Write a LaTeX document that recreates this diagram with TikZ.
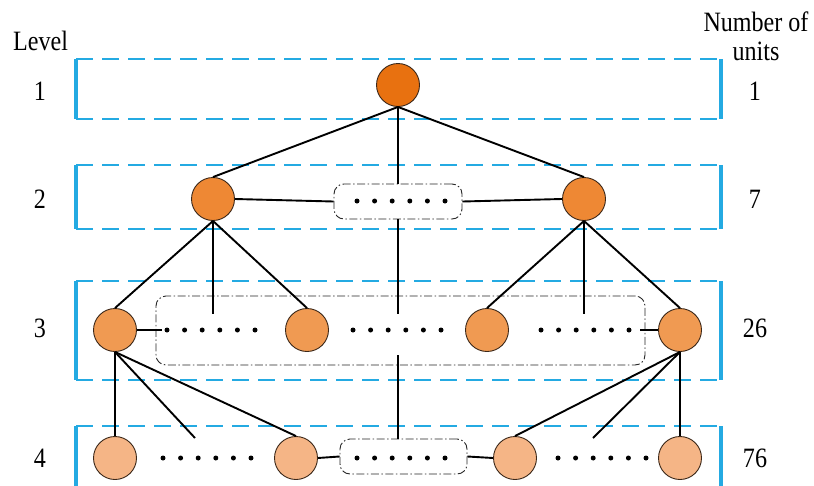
\documentclass[tikz,border=0pt]{standalone}
\usepackage{fontspec}
\newfontfamily\labfont[FakeStretch=0.86]{Liberation Serif}
\definecolor{bandblue}{RGB}{36,170,226}
\definecolor{cA}{RGB}{232,113,16}
\definecolor{cB}{RGB}{238,136,52}
\definecolor{cC}{RGB}{240,154,82}
\definecolor{cD}{RGB}{245,181,134}
\definecolor{rim}{RGB}{60,40,25}
\begin{document}
\begin{tikzpicture}[x=1pt,y=-1pt,
  unit/.style={circle,draw=rim,line width=0.9pt,minimum size=43pt,inner sep=0pt},
  conn/.style={line width=1.9pt,black},
  band/.style={draw=bandblue,line width=1.8pt,dash pattern=on 17pt off 9pt},
  bandside/.style={draw=bandblue,line width=3.2pt},
  grp/.style={draw=black!85,line width=0.9pt,dash pattern=on 8pt off 2.5pt on 1.5pt off 2.5pt,rounded corners=10pt,inner sep=0pt},
  lab/.style={font=\labfont\fontsize{28}{30}\selectfont,anchor=base,inner sep=0pt},
  sixdots/.pic={\foreach \i in {0,...,5} \fill (\i*17.6,0) circle (2.5pt);}]
\useasboundingbox (0,0) rectangle (814,485);
% level bands
\foreach \t/\b in {59/119,165/229,281/380,426/492}{
  \draw[band] (76,\t) -- (721,\t);
  \draw[band] (76,\b) -- (721,\b);
  \draw[bandside] (76,\t) -- (76,\b);
  \draw[bandside] (721,\t) -- (721,\b);
}
% units
\node[unit,fill=cA] (root) at (398,85) {};
\node[unit,fill=cB] (l2a) at (213,199) {};
\node[unit,fill=cB] (l2b) at (584,199) {};
\node[grp,minimum width=128pt,minimum height=35pt] (g2) at (398,201.5) {};
\node[unit,fill=cC] (l3a) at (115,330) {};
\node[unit,fill=cC] (l3b) at (307,330) {};
\node[unit,fill=cC] (l3c) at (487,330) {};
\node[unit,fill=cC] (l3d) at (680,330) {};
\node[grp,minimum width=489pt,minimum height=69pt] (g3) at (400.5,330.5) {};
\node[unit,fill=cD] (l4a) at (115,458) {};
\node[unit,fill=cD] (l4b) at (296,458) {};
\node[unit,fill=cD] (l4c) at (515,458) {};
\node[unit,fill=cD] (l4d) at (680,458) {};
\node[grp,minimum width=127pt,minimum height=35pt] (g4) at (403.5,456.5) {};
% dots
\pic at (357,201) {sixdots};
\pic at (167,330) {sixdots};
\pic at (353,330) {sixdots};
\pic at (541,330) {sixdots};
\pic at (163,458) {sixdots};
\pic at (357,458) {sixdots};
\pic at (558,458) {sixdots};
% free ends
\coordinate (e2a) at (213,314);
\coordinate (e2b) at (584,314);
\coordinate (e2m) at (398,314);
\coordinate (e3l) at (162,330);
\coordinate (e3r) at (640,330);
\coordinate (e3m) at (398,355);
\coordinate (e4l) at (195,438);
\coordinate (e4r) at (593,438);
% connectors
\draw[conn] (root.south) -- (l2a.north);
\draw[conn] (root.south) -- (l2b.north);
\draw[conn] (root.south) -- (g2.north);
\draw[conn] (l2a.east) -- (g2.west);
\draw[conn] (g2.east) -- (l2b.west);
\draw[conn] (l2a.south) -- (l3a.north);
\draw[conn] (l2a.south) -- (e2a);
\draw[conn] (l2a.south) -- (l3b.north);
\draw[conn] (l2b.south) -- (l3c.north);
\draw[conn] (l2b.south) -- (e2b);
\draw[conn] (l2b.south) -- (l3d.north);
\draw[conn] (g2.south) -- (e2m);
\draw[conn] (l3a.east) -- (e3l);
\draw[conn] (e3r) -- (l3d.west);
\draw[conn] (e3m) -- (e3m |- g4.north);
\draw[conn] (l3a.south) -- (l4a.north);
\draw[conn] (l3a.south) -- (e4l);
\draw[conn] (l3a.south) -- (l4b.north);
\draw[conn] (l3d.south) -- (l4d.north);
\draw[conn] (l3d.south) -- (e4r);
\draw[conn] (l3d.south) -- (l4c.north);
\draw[conn] (l4b.east) -- (g4.west);
\draw[conn] (g4.east) -- (l4c.west);
% labels
\node[lab,anchor=base west] (tl) at (13,50) {Level};
\node[lab] (tn) at (756,31) {Number of};
\node[lab] (tu) at (756,60) {units};
\node[lab] (n1) at (40,100) {1};
\node[lab] (n2) at (40,208) {2};
\node[lab] (n3) at (40,337) {3};
\node[lab] (n4) at (40,467) {4};
\node[lab] (m1) at (755,100) {1};
\node[lab] (m2) at (755,208) {7};
\node[lab] (m3) at (755,337) {26};
\node[lab] (m4) at (755,467) {76};
\end{tikzpicture}
\end{document}
